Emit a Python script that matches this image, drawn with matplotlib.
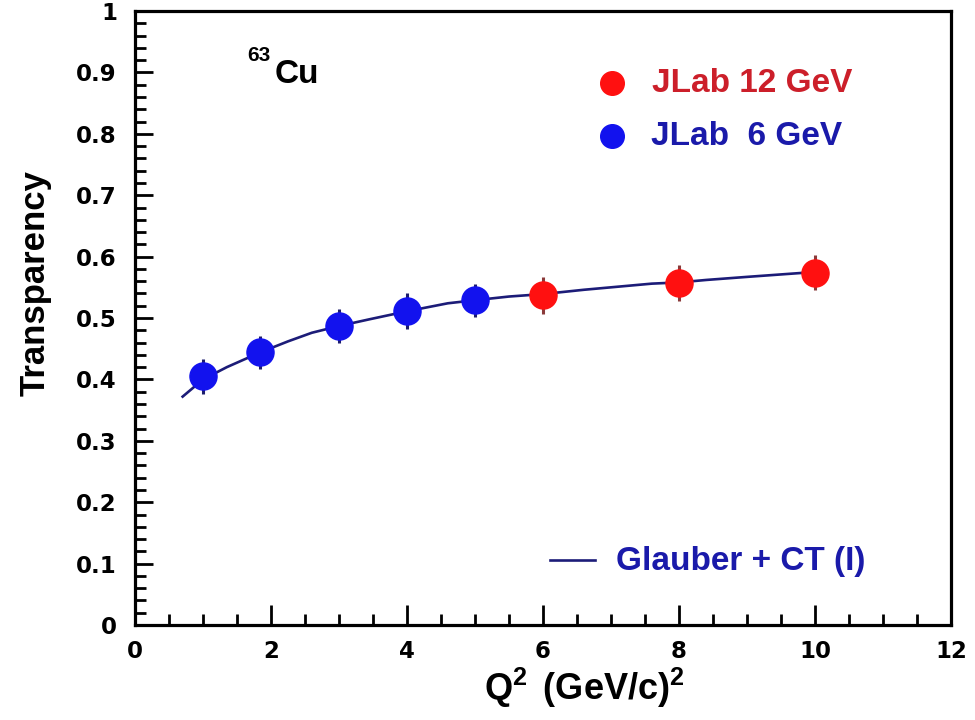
import matplotlib
matplotlib.use('Agg')
import matplotlib.pyplot as plt
from matplotlib.ticker import MultipleLocator

plt.rcParams['mathtext.fontset'] = 'custom'
plt.rcParams['mathtext.rm'] = 'Liberation Sans:bold'
plt.rcParams['mathtext.it'] = 'Liberation Sans:bold'
plt.rcParams['mathtext.bf'] = 'Liberation Sans:bold'

# 6 GeV measurements
q2_6gev = [1.0, 1.84, 3.0, 4.0, 5.0]
t_6gev = [0.405, 0.444, 0.487, 0.511, 0.529]
err_6gev = [0.029, 0.027, 0.027, 0.029, 0.027]

# 12 GeV projections
q2_12gev = [6.0, 8.0, 10.0]
t_12gev = [0.537, 0.557, 0.574]
err_12gev = [0.030, 0.030, 0.029]

# Glauber + CT model curve
glauber_q2 = [0.7, 1.0, 1.35, 1.84, 2.25, 2.6, 3.0, 3.45, 4.0, 4.6, 5.0,
              5.5, 6.0, 6.6, 7.1, 7.6, 8.0, 8.4, 9.0, 9.5, 10.0]
glauber_t = [0.372, 0.400, 0.420, 0.444, 0.462, 0.476, 0.487, 0.498, 0.511,
             0.524, 0.529, 0.535, 0.539, 0.546, 0.551, 0.556, 0.558, 0.562,
             0.567, 0.571, 0.575]

xticks = [0, 2, 4, 6, 8, 10, 12]
yticks = [0, 0.1, 0.2, 0.3, 0.4, 0.5, 0.6, 0.7, 0.8, 0.9, 1.0]
ytick_labels = ['0', '0.1', '0.2', '0.3', '0.4', '0.5', '0.6', '0.7', '0.8', '0.9', '1']

fig = plt.figure(figsize=(9.75, 7.2), dpi=100)
ax = fig.add_axes([0.1385, 0.1319, 0.8369, 0.8528])

ax.plot(glauber_q2, glauber_t, color='#1c1c78', lw=1.9, zorder=2)

ax.errorbar(q2_6gev, t_6gev, yerr=err_6gev, fmt='o', ms=19.5, color='#1212ee',
            ecolor='#1c1c6e', elinewidth=2.2, capsize=0, zorder=3)
ax.errorbar(q2_12gev, t_12gev, yerr=err_12gev, fmt='o', ms=19.5, color='#ff1010',
            ecolor='#8b3a3a', elinewidth=2.2, capsize=0, zorder=3)

ax.set_xlim(0, 12)
ax.set_ylim(0, 1)
ax.set_xticks(xticks)
ax.set_yticks(yticks)
ax.set_yticklabels(ytick_labels)
ax.xaxis.set_minor_locator(MultipleLocator(0.5))
ax.yaxis.set_minor_locator(MultipleLocator(0.02))
ax.tick_params(which='both', direction='in', top=False, right=False, width=2.0)
ax.tick_params(axis='y', which='major', length=13, pad=13)
ax.tick_params(axis='y', which='minor', length=8)
ax.tick_params(axis='x', which='major', length=14.5, pad=11)
ax.tick_params(axis='x', which='minor', length=8)
for lab in ax.get_xticklabels() + ax.get_yticklabels():
    lab.set_fontfamily('DejaVu Sans')
    lab.set_fontweight('bold')
    lab.set_fontsize(16.5)
for sp in ax.spines.values():
    sp.set_linewidth(2.3)

ax.set_xlabel(r'Q$^{2}$ $\,$(GeV/c)$^{2}$', fontsize=26, fontfamily='Liberation Sans',
              fontweight='bold')
ax.xaxis.set_label_coords(0.551, -0.066)
ax.set_ylabel('Transparency', fontsize=25, fontfamily='Liberation Sans',
              fontweight='bold')
ax.yaxis.set_label_coords(-0.102, 0.557)

# target nucleus label
ax.text(0.137, 0.928, '63', transform=ax.transAxes, fontsize=15,
        fontfamily='Liberation Sans', fontweight='bold', va='center')
ax.text(0.1716, 0.897, 'Cu', transform=ax.transAxes, fontsize=24,
        fontfamily='Liberation Sans', fontweight='bold', va='center')

# legend entries
ax.plot([0.585], [0.882], 'o', ms=17, color='#ff1010', transform=ax.transAxes)
ax.text(0.634, 0.882, 'JLab 12 GeV', transform=ax.transAxes, fontsize=24,
        fontfamily='Liberation Sans', fontweight='bold', color='#cc1f2a',
        va='center')
ax.plot([0.585], [0.796], 'o', ms=17, color='#1212ee', transform=ax.transAxes)
ax.text(0.632, 0.796, 'JLab  6 GeV', transform=ax.transAxes, fontsize=24,
        fontfamily='Liberation Sans', fontweight='bold', color='#1a1aaa',
        va='center')
ax.plot([0.509, 0.564], [0.106, 0.106], color='#1c1c78', lw=1.9,
        transform=ax.transAxes)
ax.text(0.590, 0.104, 'Glauber + CT (I)', transform=ax.transAxes, fontsize=24,
        fontfamily='Liberation Sans', fontweight='bold', color='#1a1aaa',
        va='center')

fig.savefig('out.png', dpi=100)
